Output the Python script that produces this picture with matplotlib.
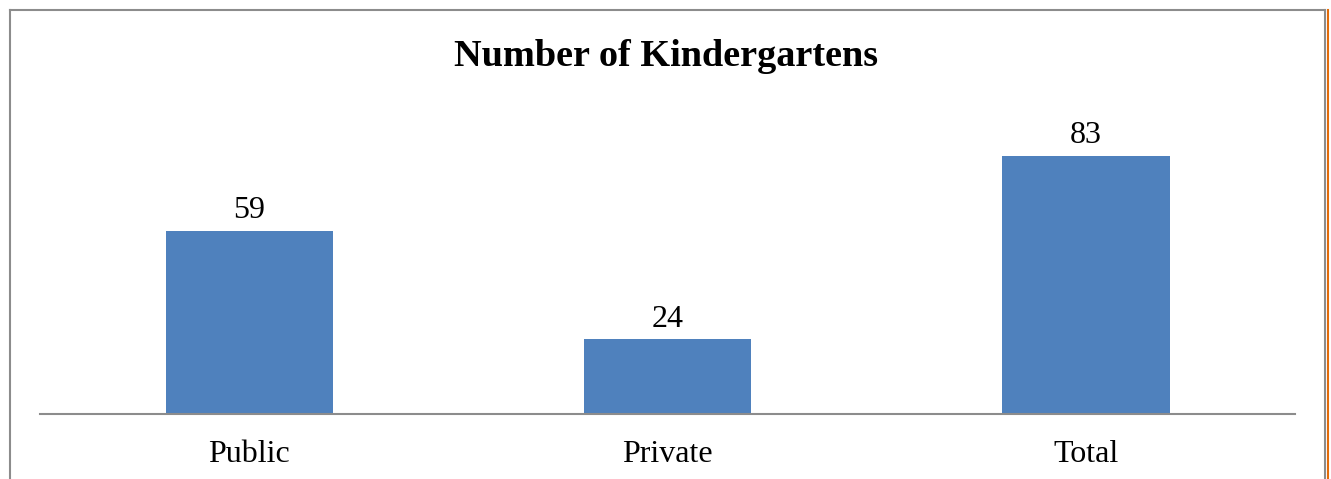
import matplotlib.pyplot as plt
from matplotlib.lines import Line2D

# data
categories = ["Public", "Private", "Total"]
counts = [59, 24, 83]

plt.rcParams['font.family'] = ['Liberation Serif', 'DejaVu Serif']

fig = plt.figure(figsize=(13.31, 4.79), dpi=100)
ax = fig.add_axes([40 / 1331, 65 / 479, 1255 / 1331, 311 / 479])

bars = ax.bar(range(len(categories)), counts, width=0.4, color='#4f81bd')
ax.set_xlim(-0.5, 2.5)
ax.set_ylim(0, 100)

for b, v in zip(bars, counts):
    ax.annotate(str(v), (b.get_x() + b.get_width() / 2, v), xytext=(0, 4),
                textcoords='offset points', ha='center', va='bottom', fontsize=23)

ax.set_xticks(range(len(categories)))
ax.set_xticklabels(categories, fontsize=23)
ax.tick_params(axis='x', length=0, pad=19)
ax.set_yticks([])
for s in ['top', 'right', 'left']:
    ax.spines[s].set_visible(False)
ax.spines['bottom'].set_color('#8c8c8c')
ax.spines['bottom'].set_linewidth(1.5)

fig.text(666 / 1331, 1 - 57 / 479, "Number of Kindergartens", ha='center', va='center',
         fontsize=27.5, fontweight='bold')

# chart frame (bottom edge is cropped in the original)
W, H = 1331, 479
fig.add_artist(Line2D([10 / W, 10 / W], [0, 1 - 10 / H], color='#8c8c8c', lw=1.5))
fig.add_artist(Line2D([10 / W, 1325 / W], [1 - 10 / H, 1 - 10 / H], color='#8c8c8c', lw=1.5))
fig.add_artist(Line2D([1325 / W, 1325 / W], [0, 1 - 10 / H], color='#8c8c8c', lw=1.5))
fig.add_artist(Line2D([1327.5 / W, 1327.5 / W], [0, 1 - 10 / H], color='#e36c0a', lw=1.5))

fig.savefig("out.png", dpi=100)
